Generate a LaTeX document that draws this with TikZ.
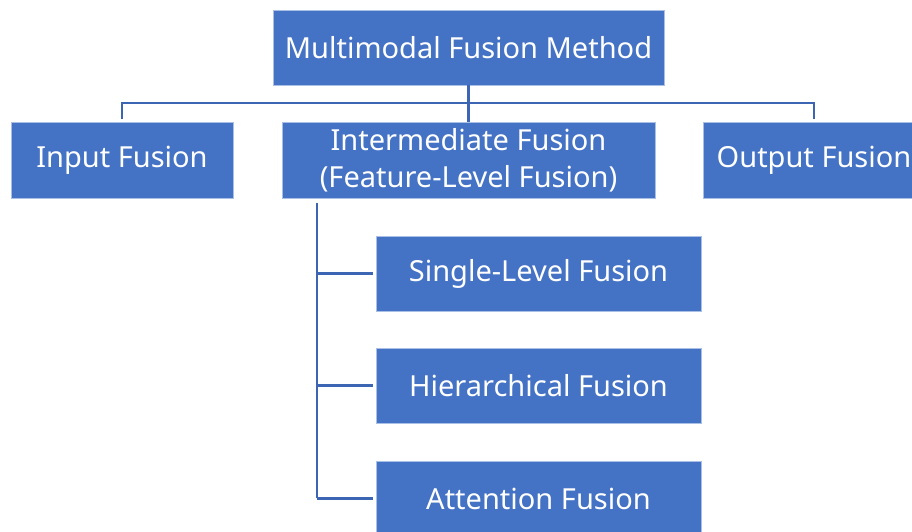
\documentclass[tikz,border=0pt]{standalone}
\usepackage{fontspec}
\setmainfont{Noto Sans}
\usetikzlibrary{positioning}

\definecolor{boxblue}{HTML}{4472C4}
\definecolor{lineblue}{HTML}{3C65B4}
\definecolor{edgeblue}{HTML}{A9BFE6}

\begin{document}
\begin{tikzpicture}[x=1pt, y=1pt,
	box/.style={fill=boxblue, draw=edgeblue, line width=0.8pt, text=white, align=center, inner sep=0pt,
		font=\fontsize{29}{37}\selectfont},
	conn/.style={draw=lineblue, line width=2.2pt}]
	\useasboundingbox (0,0) rectangle (912,532);
	% root and the three fusion stages
	\node[box, minimum width=391, minimum height=75] (root) at (468.5,484.5) {Multimodal Fusion Method};
	\node[box, minimum width=222, minimum height=76] (input) at (122,372) {Input Fusion};
	\node[box, minimum width=373, minimum height=76] (inter) at (468.5,372) {Intermediate Fusion\\(Feature-Level Fusion)};
	\node[box, minimum width=222, minimum height=76] (output) at (814,372) {Output Fusion};
	% kinds of intermediate fusion
	\node[box, minimum width=325, minimum height=75] (single) at (538.5,258.5) {Single-Level Fusion};
	\node[box, minimum width=325, minimum height=75] (hier) at (538.5,146.5) {Hierarchical Fusion};
	\node[box, minimum width=325, minimum height=75] (attn) at (538.5,33.5) {Attention Fusion};
	% tree lines
	\coordinate (bus) at (468.5,429);
	\coordinate (spine) at (317,329);
	\draw[conn] (root.south) -- (inter.north);
	\draw[conn, shorten <=3pt, shorten >=3pt] (input.north) |- (bus) -| (output.north);
	\draw[conn] (spine) -- (attn.west -| spine);
	\foreach \n in {single, hier, attn} {\draw[conn, shorten >=3pt] (\n.west -| spine) -- (\n.west);}
\end{tikzpicture}
\end{document}
